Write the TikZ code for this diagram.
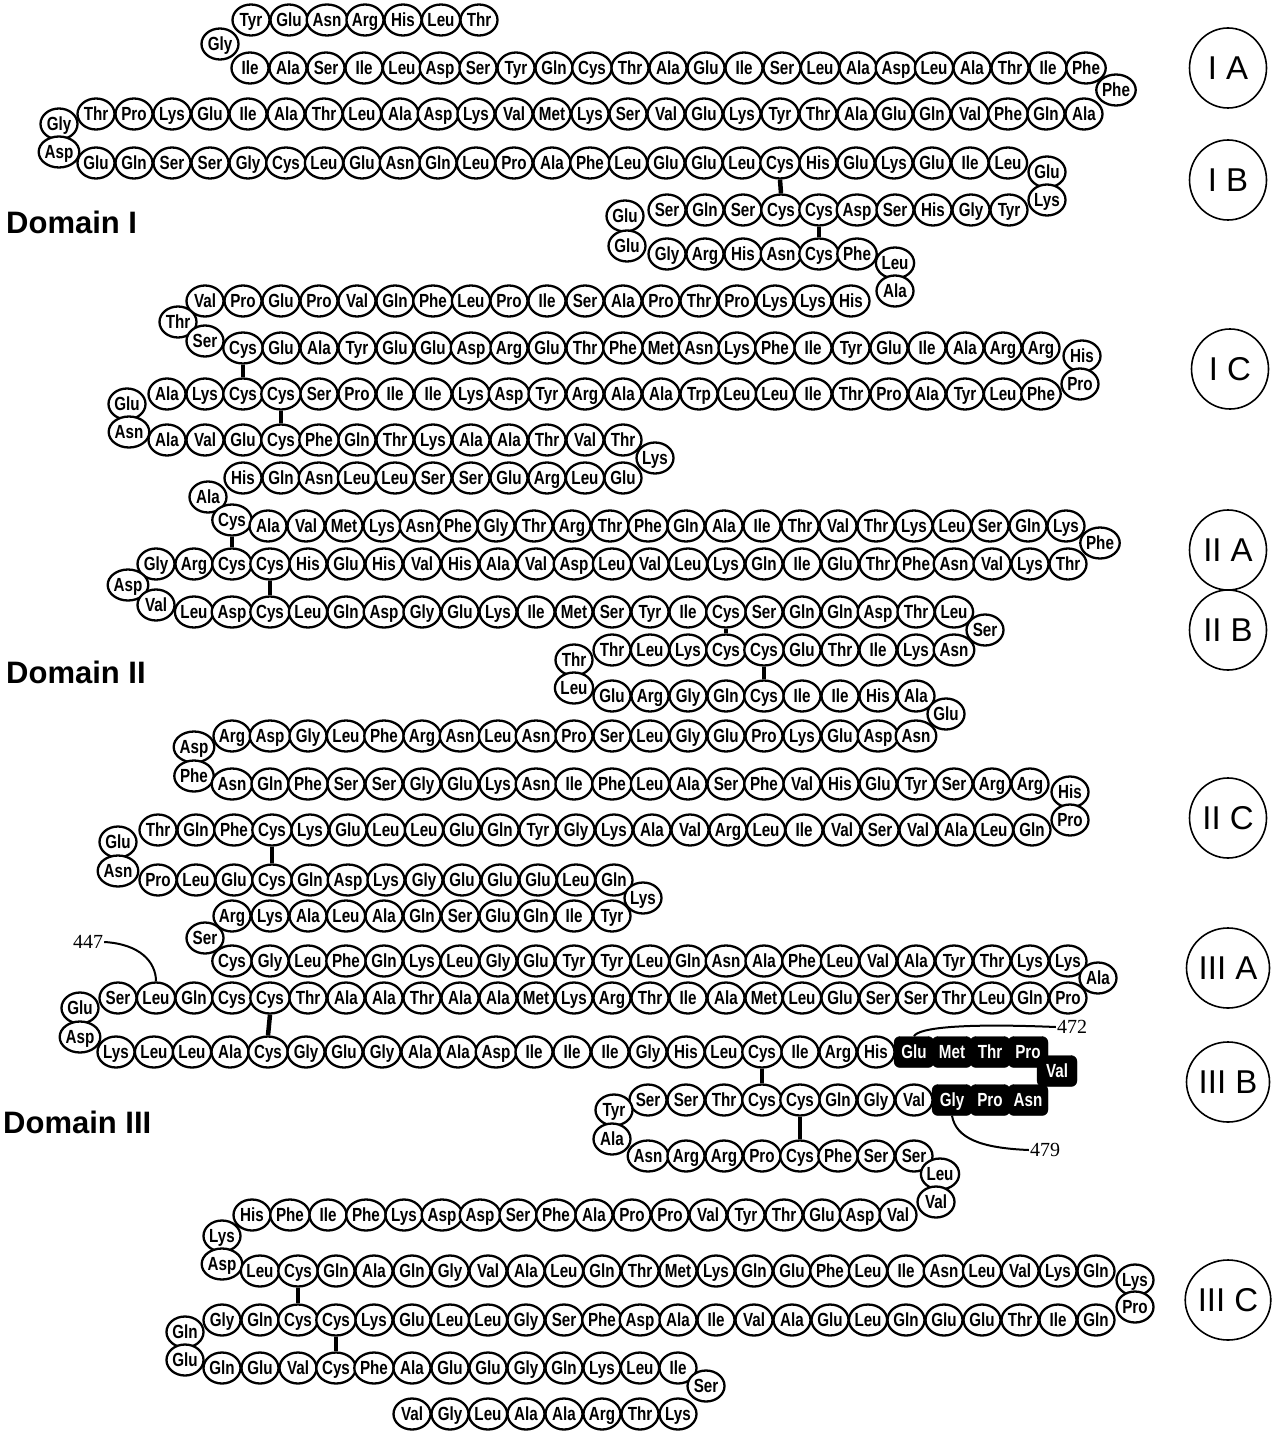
\documentclass[tikz,border=0pt]{standalone}
\usepackage{fontspec}
\setmainfont{Liberation Serif}
\newfontfamily\resfont[FakeStretch=0.8]{Liberation Sans}
\newfontfamily\labfont{Liberation Sans}
\usetikzlibrary{shapes.geometric}
\tikzset{
  res/.style={ellipse, draw=black, line width=2.3pt, fill=white, minimum width=37pt, minimum height=31pt, inner sep=0pt, text height=13.5pt, text depth=0pt, font=\resfont\bfseries\fontsize{19}{19}\selectfont},
  hl/.style={rectangle, rounded corners=6pt, fill=black, draw=black, text=white, minimum width=40pt, minimum height=31pt, inner sep=0pt, text height=13.5pt, text depth=0pt, font=\resfont\bfseries\fontsize{19}{19}\selectfont},
  ss/.style={line width=4.5pt},
  dom/.style={ellipse, draw=black, line width=1.6pt, minimum width=77pt, minimum height=80pt, inner sep=0pt, font=\labfont\fontsize{33}{33}\selectfont},
  domlab/.style={anchor=west, inner sep=0pt, font=\labfont\bfseries\fontsize{31}{31}\selectfont},
  num/.style={inner sep=1pt, font=\fontsize{20}{20}\selectfont},
  pointer/.style={line width=2pt},
}
\newcommand\resrow[4]{\foreach \resname [count=\i] in {#4}{\node[res] (#1-\i) at ({#2+38*(\i-1)},#3) {\resname};}}
\begin{document}
\begin{tikzpicture}[x=1pt,y=-1pt]
\useasboundingbox (0,0) rectangle (1273,1431);
% ---------------- Domain I ----------------
\resrow{a1}{251}{20}{Tyr,Glu,Asn,Arg,His,Leu,Thr}
\node[res] (ta1) at (220,44) {Gly};
\resrow{a2}{250}{68}{Ile,Ala,Ser,Ile,Leu,Asp,Ser,Tyr,Gln,Cys,Thr,Ala,Glu,Ile,Ser,Leu,Ala,Asp,Leu,Ala,Thr,Ile,Phe}
\node[res] (ta2) at (1116,90) {Phe};
\resrow{a3}{96}{114}{Thr,Pro,Lys,Glu,Ile,Ala,Thr,Leu,Ala,Asp,Lys,Val,Met,Lys,Ser,Val,Glu,Lys,Tyr,Thr,Ala,Glu,Gln,Val,Phe,Gln,Ala}
\node[res] (ta3) at (59,124) {Gly};
\node[res] (ta4) at (59,152) {Asp};
\resrow{b1}{96}{163}{Glu,Gln,Ser,Ser,Gly,Cys,Leu,Glu,Asn,Gln,Leu,Pro,Ala,Phe,Leu,Glu,Glu,Leu,Cys,His,Glu,Lys,Glu,Ile,Leu}
\node[res] (tb1) at (1047,172) {Glu};
\node[res] (tb2) at (1047,200) {Lys};
\resrow{b2}{667}{210}{Ser,Gln,Ser,Cys,Cys,Asp,Ser,His,Gly,Tyr}
\node[res] (tb3) at (625,216) {Glu};
\node[res] (tb4) at (627,246) {Glu};
\resrow{b3}{667}{254}{Gly,Arg,His,Asn,Cys,Phe}
\node[res] (tb5) at (895,263) {Leu};
\node[res] (tb6) at (895,291) {Ala};
\resrow{c1}{205}{301}{Val,Pro,Glu,Pro,Val,Gln,Phe,Leu,Pro,Ile,Ser,Ala,Pro,Thr,Pro,Lys,Lys,His}
\node[res] (tc1) at (178,322) {Thr};
\node[res] (tc2) at (205,341) {Ser};
\resrow{c2}{243}{348}{Cys,Glu,Ala,Tyr,Glu,Glu,Asp,Arg,Glu,Thr,Phe,Met,Asn,Lys,Phe,Ile,Tyr,Glu,Ile,Ala,Arg,Arg}
\node[res] (tc3) at (1082,356) {His};
\node[res] (tc4) at (1080,384) {Pro};
\resrow{c3}{167}{394}{Ala,Lys,Cys,Cys,Ser,Pro,Ile,Ile,Lys,Asp,Tyr,Arg,Ala,Ala,Trp,Leu,Leu,Ile,Thr,Pro,Ala,Tyr,Leu,Phe}
\node[res] (tc5) at (127,404) {Glu};
\node[res] (tc6) at (129,432) {Asn};
\resrow{c4}{167}{440}{Ala,Val,Glu,Cys,Phe,Gln,Thr,Lys,Ala,Ala,Thr,Val,Thr}
\node[res] (tc7) at (655,458) {Lys};
\resrow{c5}{243}{478}{His,Gln,Asn,Leu,Leu,Ser,Ser,Glu,Arg,Leu,Glu}
\node[res] (tc8) at (208,497) {Ala};
% ---------------- Domain II ----------------
\node[res] (d1c) at (232,520) {Cys};
\resrow{d1}{268}{526}{Ala,Val,Met,Lys,Asn,Phe,Gly,Thr,Arg,Thr,Phe,Gln,Ala,Ile,Thr,Val,Thr,Lys,Leu,Ser,Gln,Lys}
\node[res] (td1) at (1100,543) {Phe};
\resrow{d2}{156}{564}{Gly,Arg,Cys,Cys,His,Glu,His,Val,His,Ala,Val,Asp,Leu,Val,Leu,Lys,Gln,Ile,Glu,Thr,Phe,Asn,Val,Lys,Thr}
\node[res] (td2) at (128,585) {Asp};
\node[res] (td3) at (156,605) {Val};
\resrow{d3}{194}{612}{Leu,Asp,Cys,Leu,Gln,Asp,Gly,Glu,Lys,Ile,Met,Ser,Tyr,Ile,Cys,Ser,Gln,Gln,Asp,Thr,Leu}
\node[res] (td4) at (985,630) {Ser};
\resrow{d4}{612}{650}{Thr,Leu,Lys,Cys,Cys,Glu,Thr,Ile,Lys,Asn}
\node[res] (td5) at (574,660) {Thr};
\node[res] (td6) at (574,688) {Leu};
\resrow{d5}{612}{696}{Glu,Arg,Gly,Gln,Cys,Ile,Ile,His,Ala}
\node[res] (td7) at (946,714) {Glu};
\resrow{e1}{232}{736}{Arg,Asp,Gly,Leu,Phe,Arg,Asn,Leu,Asn,Pro,Ser,Leu,Gly,Glu,Pro,Lys,Glu,Asp,Asn}
\node[res] (te1) at (194,747) {Asp};
\node[res] (te2) at (194,776) {Phe};
\resrow{e2}{232}{784}{Asn,Gln,Phe,Ser,Ser,Gly,Glu,Lys,Asn,Ile,Phe,Leu,Ala,Ser,Phe,Val,His,Glu,Tyr,Ser,Arg,Arg}
\node[res] (te3) at (1070,792) {His};
\node[res] (te4) at (1070,820) {Pro};
\resrow{e3}{158}{830}{Thr,Gln,Phe,Cys,Lys,Glu,Leu,Leu,Glu,Gln,Tyr,Gly,Lys,Ala,Val,Arg,Leu,Ile,Val,Ser,Val,Ala,Leu,Gln}
\node[res] (te5) at (118,842) {Glu};
\node[res] (te6) at (118,871) {Asn};
\resrow{e4}{158}{880}{Pro,Leu,Glu,Cys,Gln,Asp,Lys,Gly,Glu,Glu,Glu,Leu,Gln}
\node[res] (te7) at (643,898) {Lys};
\resrow{e5}{232}{916}{Arg,Lys,Ala,Leu,Ala,Gln,Ser,Glu,Gln,Ile,Tyr}
\node[res] (te8) at (205,938) {Ser};
% ---------------- Domain III ----------------
\resrow{f1}{232}{961}{Cys,Gly,Leu,Phe,Gln,Lys,Leu,Gly,Glu,Tyr,Tyr,Leu,Gln,Asn,Ala,Phe,Leu,Val,Ala,Tyr,Thr,Lys,Lys}
\node[res] (tf1) at (1098,978) {Ala};
\resrow{f2}{118}{998}{Ser,Leu,Gln,Cys,Cys,Thr,Ala,Ala,Thr,Ala,Ala,Met,Lys,Arg,Thr,Ile,Ala,Met,Leu,Glu,Ser,Ser,Thr,Leu,Gln,Pro}
\node[res] (tf2) at (80,1008) {Glu};
\node[res] (tf3) at (80,1037) {Asp};
\resrow{f3}{116}{1052}{Lys,Leu,Leu,Ala,Cys,Gly,Glu,Gly,Ala,Ala,Asp,Ile,Ile,Ile,Gly,His,Leu,Cys,Ile,Arg,His}
\node[hl] (h1) at (914,1052) {Glu};
\node[hl] (h2) at (952,1052) {Met};
\node[hl] (h3) at (990,1052) {Thr};
\node[hl] (h4) at (1028,1052) {Pro};
\node[hl] (h5) at (1057,1071) {Val};
\node[hl] (h6) at (1028,1100) {Asn};
\node[hl] (h7) at (990,1100) {Pro};
\node[hl] (h8) at (952,1100) {Gly};
\resrow{f4}{648}{1100}{Ser,Ser,Thr,Cys,Cys,Gln,Gly,Val}
\node[res] (tf4) at (614,1110) {Tyr};
\node[res] (tf5) at (612,1139) {Ala};
\resrow{f5}{648}{1156}{Asn,Arg,Arg,Pro,Cys,Phe,Ser,Ser}
\node[res] (tf6) at (940,1174) {Leu};
\node[res] (tf7) at (936,1202) {Val};
\resrow{g1}{252}{1215}{His,Phe,Ile,Phe,Lys,Asp,Asp,Ser,Phe,Ala,Pro,Pro,Val,Tyr,Thr,Glu,Asp,Val}
\node[res] (tg1) at (222,1236) {Lys};
\node[res] (tg2) at (222,1264) {Asp};
\resrow{g2}{260}{1271}{Leu,Cys,Gln,Ala,Gln,Gly,Val,Ala,Leu,Gln,Thr,Met,Lys,Gln,Glu,Phe,Leu,Ile,Asn,Leu,Val,Lys,Gln}
\node[res] (tg3) at (1135,1280) {Lys};
\node[res] (tg4) at (1135,1307) {Pro};
\resrow{g3}{222}{1320}{Gly,Gln,Cys,Cys,Lys,Glu,Leu,Leu,Gly,Ser,Phe,Asp,Ala,Ile,Val,Ala,Glu,Leu,Gln,Glu,Glu,Thr,Ile,Gln}
\node[res] (tg5) at (185,1332) {Gln};
\node[res] (tg6) at (185,1360) {Glu};
\resrow{g4}{222}{1368}{Gln,Glu,Val,Cys,Phe,Ala,Glu,Glu,Gly,Gln,Lys,Leu,Ile}
\node[res] (tg7) at (706,1386) {Ser};
\resrow{g5}{412}{1414}{Val,Gly,Leu,Ala,Ala,Arg,Thr,Lys}
% ---------------- disulfide bridges ----------------
\draw[ss] (b1-19.south) -- (b2-4.north);
\draw[ss] (b2-5.south) -- (b3-5.north);
\draw[ss] (c2-1.south) -- (c3-3.north);
\draw[ss] (c3-4.south) -- (c4-4.north);
\draw[ss] (d1c.south) -- (d2-3.north);
\draw[ss] (d2-4.south) -- (d3-3.north);
\draw[ss] (d3-15.south) -- (d4-4.north);
\draw[ss] (d4-5.south) -- (d5-5.north);
\draw[ss] (e3-4.south) -- (e4-4.north);
\draw[ss] (f2-5.south) -- (f3-5.north);
\draw[ss] (f3-18.south) -- (f4-4.north);
\draw[ss] (f4-5.south) -- (f5-5.north);
\draw[ss] (g2-2.south) -- (g3-3.north);
\draw[ss] (g3-4.south) -- (g4-4.north);
% ---------------- numbering ----------------
\node[num] (n447) at (88,942) {447};
\draw[pointer] (n447.east) .. controls (140,944) and (156,962) .. (f2-2.north);
\node[num] (n472) at (1072,1027) {472};
\draw[pointer] (n472.west) .. controls (960,1023) and (918,1028) .. (h1.north);
\node[num] (n479) at (1045,1150) {479};
\draw[pointer] (h8.south) .. controls (956,1138) and (980,1148) .. (n479.west);
% ---------------- domain labels ----------------
\node[domlab] (domI) at (6,222) {Domain I};
\node[domlab] (domII) at (6,672) {Domain II};
\node[domlab] (domIII) at (3,1122) {Domain III};
\node[dom] (sIA) at (1228,68) {I A};
\node[dom] (sIB) at (1228,180) {I B};
\node[dom] (sIC) at (1230,369) {I C};
\node[dom] (sIIA) at (1228,550) {II A};
\node[dom] (sIIB) at (1228,630) {II B};
\node[dom] (sIIC) at (1228,818) {II C};
\node[dom] (sIIIA) at (1228,968) {III A};
\node[dom] (sIIIB) at (1228,1082) {III B};
\node[dom] (sIIIC) at (1228,1300) {III C};
\end{tikzpicture}
\end{document}
